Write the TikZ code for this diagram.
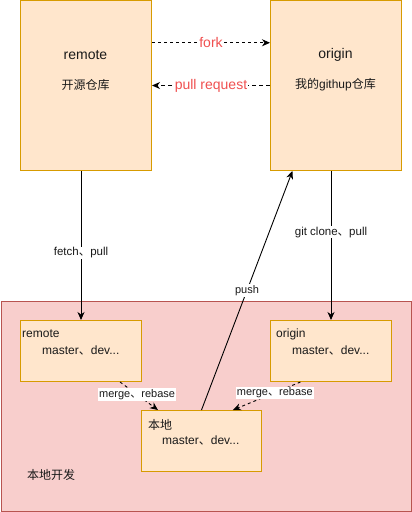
\documentclass[tikz,border=0pt]{standalone}
\usepackage{fontspec}
\setmainfont{Liberation Sans}
\newfontfamily\cjk{Noto Sans CJK SC}
\usetikzlibrary{arrows.meta,calc}
\definecolor{boxfill}{HTML}{FFE6CC}
\definecolor{boxline}{HTML}{D79B00}
\definecolor{devfill}{HTML}{F8CECC}
\definecolor{devline}{HTML}{B85450}
\definecolor{redtxt}{HTML}{F05050}
\definecolor{txtc}{HTML}{1A1A1A}
\newcommand{\fsz}[1]{\fontsize{#1}{#1}\selectfont}
\begin{document}
\begin{tikzpicture}[x=1pt,y=-1pt,
  repo/.style={draw=boxline,fill=boxfill,line width=1pt,rectangle,inner sep=0pt,anchor=north west},
  devbox/.style={draw=devline,fill=devfill,line width=1pt,rectangle,inner sep=0pt,anchor=north west},
  txt/.style={inner sep=0pt,text=txtc},
  conn/.style={line width=0.9pt,-{Stealth[length=8pt,width=7pt,inset=2.5pt]}},
  dconn/.style={conn,dash pattern=on 3pt off 3pt},
  lbl/.style={fill=white,inner sep=1pt,text=txtc,font=\fsz{11}},
  rlbl/.style={fill=white,inner sep=1pt,text=redtxt,font=\fsz{14}}]
\useasboundingbox (0,0) rectangle (412,512);
% outer local area
\node[devbox,minimum width=410pt,minimum height=210pt] (dev) at (0.5,300.5) {};
\node[txt,font=\fsz{12},anchor=west] (devT) at (27,475) {\cjk 本地开发};
% top repos
\node[repo,minimum width=131pt,minimum height=170pt] (remote) at (20,0) {};
\node[repo,minimum width=131pt,minimum height=170pt] (origin) at (270,0) {};
\node[txt,font=\fsz{14}] (remoteT) at (85.5,55) {remote};
\node[txt,font=\fsz{12}] (remoteS) at (85.5,85) {\cjk 开源仓库};
\node[txt,font=\fsz{14}] (originT) at (335.5,55) {origin};
\node[txt,font=\fsz{12}] (originS) at (335.5,85) {{\cjk 我的}githup{\cjk 仓库}};
% inner boxes
\node[repo,minimum width=121pt,minimum height=61pt] (rin) at (20,320) {};
\node[repo,minimum width=121pt,minimum height=61pt] (oin) at (270,320) {};
\node[repo,minimum width=120pt,minimum height=61pt] (loc) at (141,410) {};
\node[txt,font=\fsz{12},anchor=west] (rinT) at (22,334) {remote};
\node[txt,font=\fsz{12},anchor=west] (rinS) at (42,350) {master{\cjk 、}dev...};
\node[txt,font=\fsz{12},anchor=west] (oinT) at (276,334) {origin};
\node[txt,font=\fsz{12},anchor=west] (oinS) at (292,350) {master{\cjk 、}dev...};
\node[txt,font=\fsz{12},anchor=west] (locT) at (148,425) {\cjk 本地};
\node[txt,font=\fsz{12},anchor=west] (locS) at (162,440) {master{\cjk 、}dev...};
% fork / pull request
\draw[dconn] ($(remote.north east)!0.25!(remote.south east)$) -- ($(origin.north west)!0.25!(origin.south west)$)
  node[rlbl,midway] {fork};
\draw[dconn,dash pattern=on 4pt off 3pt] (origin.west) -- (remote.east)
  node[rlbl,midway] {pull request};
% fetch, clone
\draw[conn] (remote.south -| rin.north) -- (rin.north)
  node[lbl,pos=0.55,font=\fsz{11.5}] {fetch{\cjk 、}pull};
\draw[conn] (origin.south -| oin.north) -- (oin.north)
  node[lbl,pos=0.41,font=\fsz{11.5}] {git clone{\cjk 、}pull};
% push
\draw[conn] (loc.north) -- ($(origin.south west)!0.17!(origin.south east)$)
  node[lbl,pos=0.5] {push};
% merges
\draw[dconn] ($(rin.south west)!0.82!(rin.south east)$) -- ($(loc.north west)!0.14!(loc.north east)$)
  node[lbl,pos=0.45] {merge{\cjk 、}rebase};
\draw[dconn] ($(oin.south west)!0.25!(oin.south east)$) -- ($(loc.north west)!0.76!(loc.north east)$)
  node[lbl,pos=0.38] {merge{\cjk 、}rebase};
\end{tikzpicture}
\end{document}
